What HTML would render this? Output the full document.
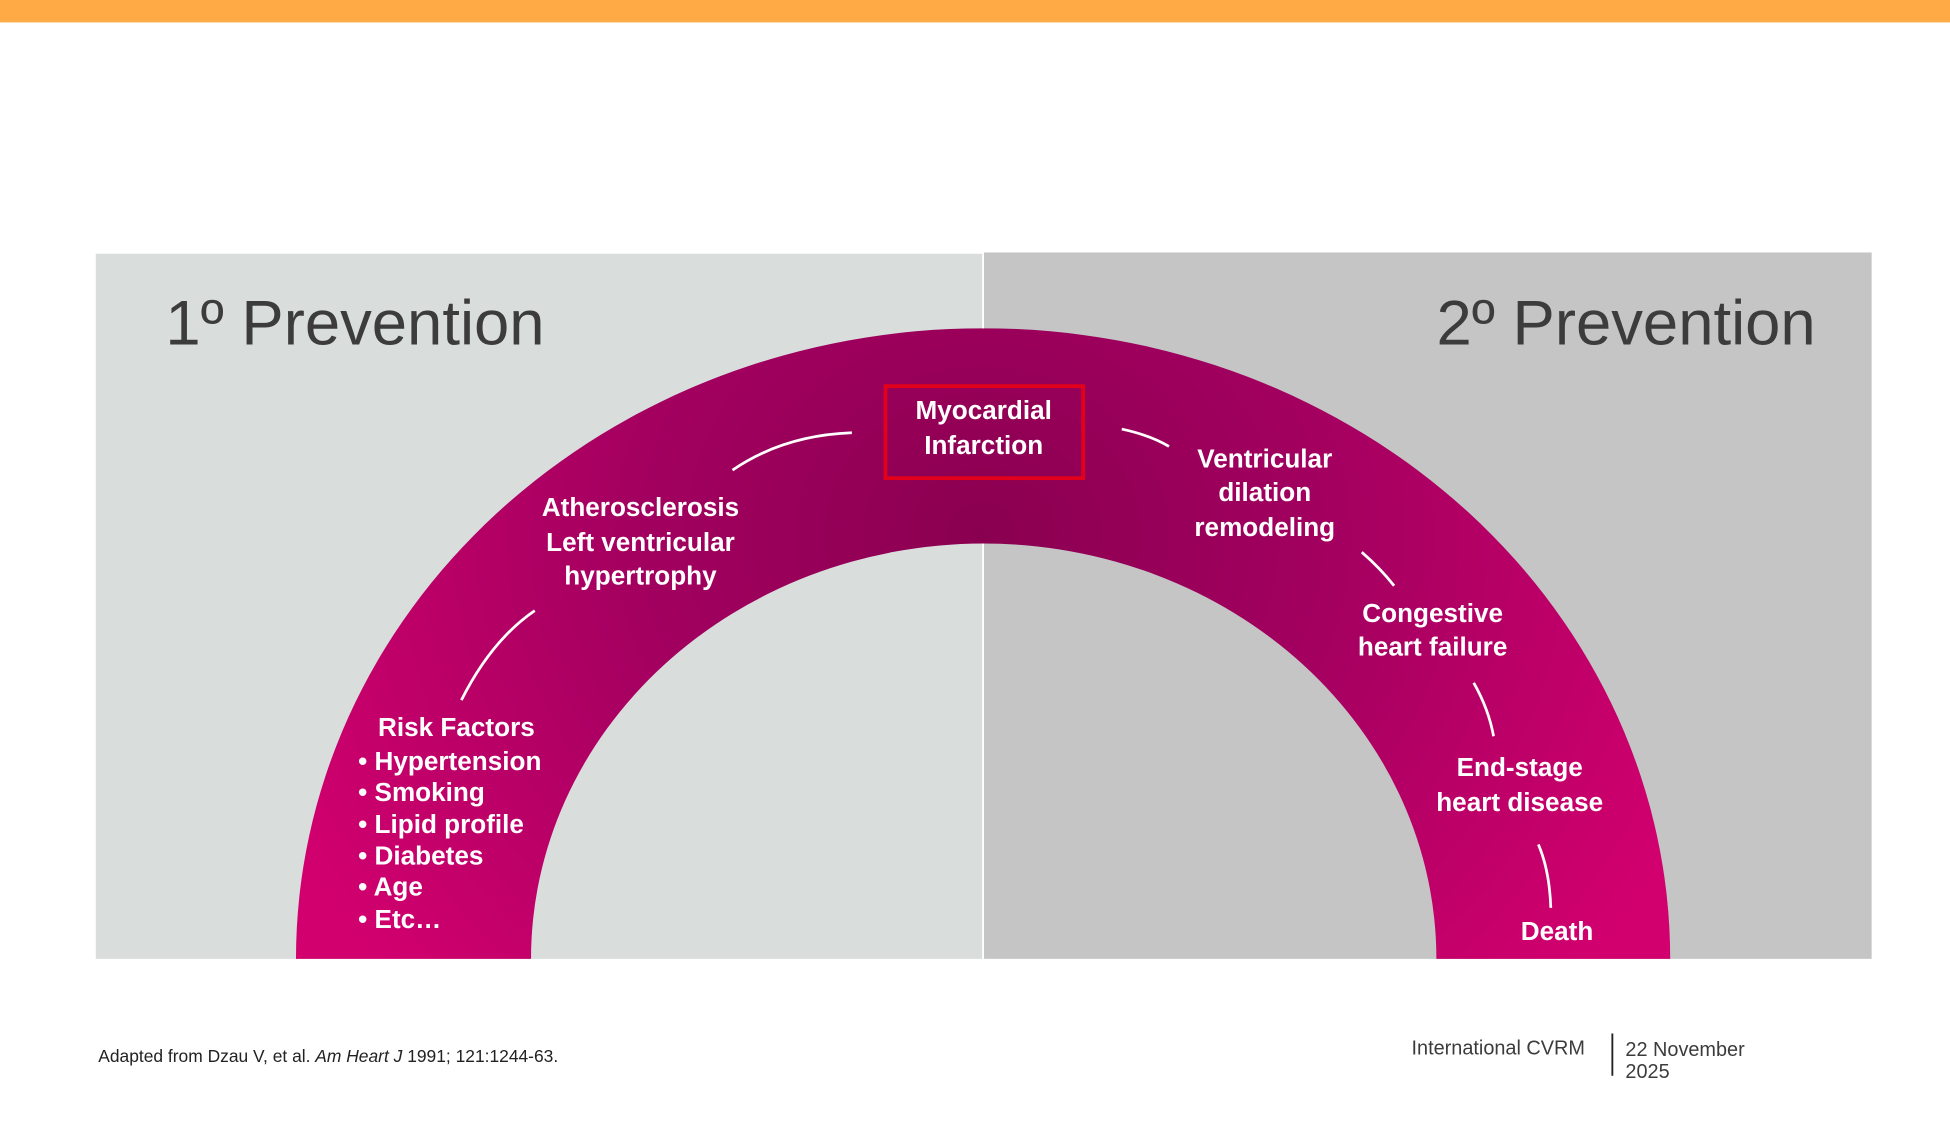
<!DOCTYPE html>
<html><head><meta charset="utf-8"><style>
html,body{margin:0;padding:0;background:#fff;width:1950px;height:1125px;overflow:hidden}
svg{display:block}
text{font-family:"Liberation Sans",Arial,sans-serif}
.w{fill:#fff;font-weight:bold;font-size:21px}
</style></head><body>
<svg width="1950" height="1125" viewBox="0 0 1568 904.6" preserveAspectRatio="none">
<defs>
<radialGradient id="g" gradientUnits="userSpaceOnUse" cx="790" cy="430" r="620" gradientTransform="translate(790 430) scale(1 0.9) translate(-790 -430)">
<stop offset="0" stop-color="#8a0050"/>
<stop offset="0.45" stop-color="#a30060"/>
<stop offset="1" stop-color="#d2006f"/>
</radialGradient>
</defs>
<rect x="0" y="0" width="1568" height="18" fill="#ffaa44"/>
<rect x="77" y="204" width="713" height="567" fill="#d9dedd"/>
<rect x="791" y="203" width="714" height="568" fill="#c4c5c4"/>
<path d="M238 771 A552 507 0 0 1 790.5 264 A552 507 0 0 1 1343 771 L1155 771 A364.5 334 0 0 0 790.5 437 A364.5 334 0 0 0 427 771 Z" fill="url(#g)"/>
<line x1="790.5" y1="203" x2="790.5" y2="264" stroke="#fff" stroke-width="1.5"/>
<line x1="790.5" y1="437" x2="790.5" y2="771" stroke="#fff" stroke-width="1.5"/>
<text x="133" y="277" font-size="51" fill="#3c3c3c">1º Prevention</text>
<text x="1460" y="277" font-size="51" fill="#3c3c3c" text-anchor="end">2º Prevention</text>
<rect x="712" y="310.5" width="159" height="74" fill="none" stroke="#e3001b" stroke-width="3"/>
<g class="w" text-anchor="middle">
<text x="791" y="337">Myocardial</text>
<text x="791" y="365">Infarction</text>
<text x="515" y="415">Atherosclerosis</text>
<text x="515" y="443">Left ventricular</text>
<text x="515" y="470">hypertrophy</text>
<text x="1017" y="376">Ventricular</text>
<text x="1017" y="403">dilation</text>
<text x="1017" y="431">remodeling</text>
<text x="1152" y="500">Congestive</text>
<text x="1152" y="527">heart failure</text>
<text x="1222" y="624">End-stage</text>
<text x="1222" y="652">heart disease</text>
<text x="1252" y="756">Death</text>
<text x="367" y="592">Risk Factors</text>
</g>
<g class="w">
<text x="288" y="619">• Hypertension</text>
<text x="288" y="644">• Smoking</text>
<text x="288" y="670">• Lipid profile</text>
<text x="288" y="695">• Diabetes</text>
<text x="288" y="720">• Age</text>
<text x="288" y="746">• Etc…</text>
</g>
<g fill="none" stroke="#fff" stroke-width="2.2">
<path d="M589 378 Q630 350 685 348"/>
<path d="M371 563 Q395 515 430 491"/>
<path d="M902 345 Q925 350 940 359"/>
<path d="M1095 444 Q1110 457 1121 471"/>
<path d="M1185 549 Q1197 570 1201 592"/>
<path d="M1237 679 Q1246 700 1247 730"/>
</g>
<text x="79" y="854" font-size="14" fill="#222">Adapted from Dzau V, et al. <tspan font-style="italic">Am Heart J</tspan> 1991; 121:1244-63.</text>
<text x="1135" y="848" font-size="16" fill="#3c3c3c">International CVRM</text>
<line x1="1296.5" y1="831" x2="1296.5" y2="865" stroke="#222" stroke-width="1.5"/>
<text x="1307" y="849" font-size="16" fill="#3c3c3c">22 November</text>
<text x="1307" y="867" font-size="16" fill="#3c3c3c">2025</text>
</svg>
</body></html>
